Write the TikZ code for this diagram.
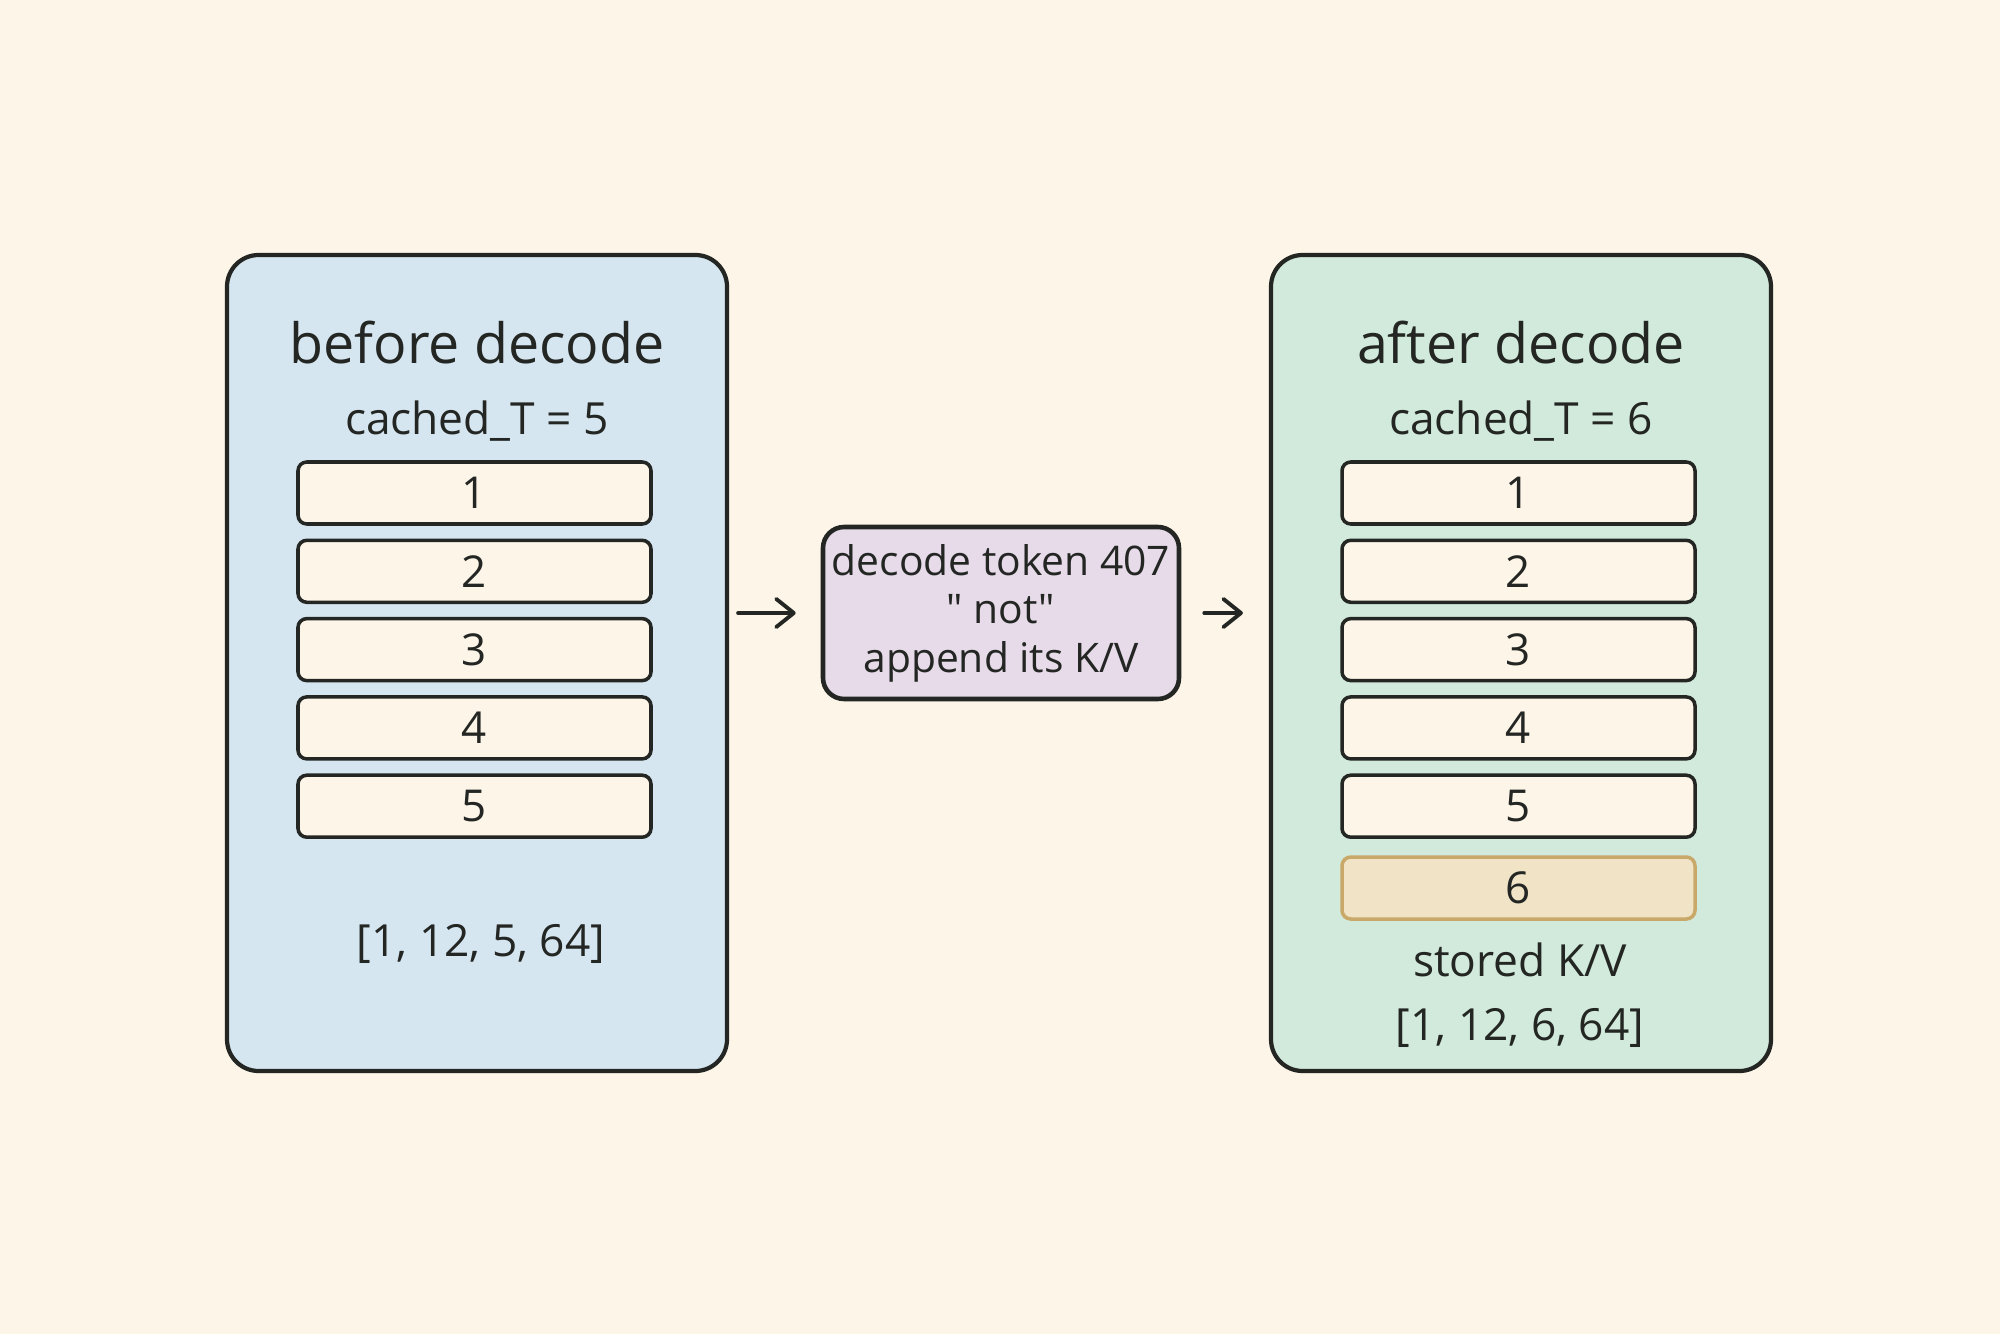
\documentclass[tikz,border=0pt]{standalone}
\usepackage{fontspec}
\setmainfont{Open Sans}[Ligatures=TeXOff]
\usetikzlibrary{arrows.meta,positioning}
\definecolor{paper}{HTML}{FDF5E8}
\definecolor{ink}{HTML}{232623}
\definecolor{sky}{HTML}{D5E6F0}
\definecolor{mint}{HTML}{D1EADB}
\definecolor{lilac}{HTML}{E7DBEA}
\definecolor{sand}{HTML}{F0E3C6}
\definecolor{ochre}{HTML}{C9A96A}
\tikzset{panel/.style={draw=ink,line width=1.2pt,rounded corners=9pt,minimum width=5cm,minimum height=8.16cm},
  slot/.style={draw=ink,fill=paper,line width=1pt,rounded corners=2.5pt,minimum width=3.53cm,minimum height=0.62cm,inner sep=0pt,text=ink,font=\fontsize{12.5}{14}\selectfont},
  title/.style={text=ink,font=\fontsize{15.8}{19}\selectfont},
  note/.style={text=ink,font=\fontsize{12.6}{15}\selectfont},
  flow/.style={draw=ink,line width=1.1pt,line cap=round,-{Straight Barb[length=5pt,width=8pt,round]}}}
\begin{document}
\begin{tikzpicture}
\useasboundingbox[fill=paper] (0,0) rectangle (20,-13.34);
% two cache panels
\node[panel,fill=sky] (before) at (4.77,-6.63){};
\node[panel,fill=mint] (after) at (15.21,-6.63){};
\node[title] (beforetitle) at (4.77,-3.43){before decode};
\node[title] (aftertitle) at (15.21,-3.43){after decode};
\node[note] (beforecount) at (4.77,-4.21){cached\_T = 5};
\node[note] (aftercount) at (15.21,-4.21){cached\_T = 6};
% cached positions
\foreach \i in {1,...,5}{
  \node[slot] (b\i) at (4.745,{-4.93-0.783*(\i-1)}){\i};
  \node[slot] (a\i) at (15.185,{-4.93-0.783*(\i-1)}){\i};}
\node[slot,fill=sand,draw=ochre,below=0.163cm of a5] (a6){6};
\node[note] (beforeshape) at (4.81,-9.44){[1, 12, 5, 64]};
\node[note] (stored) at (15.2,-9.60){stored K/V};
\node[note] (aftershape) at (15.2,-10.28){[1, 12, 6, 64]};
% decode step
\node[draw=ink,fill=lilac,line width=1.3pt,rounded corners=6pt,minimum width=3.56cm,minimum height=1.72cm,inner sep=1pt,align=center,text=ink,font=\fontsize{11.6}{13.8}\selectfont] (step) at (10.01,-6.13){decode token 407\\" not"\\append its K/V};
\draw[flow,shorten <=0.09cm,shorten >=0.25cm] (step.west -| before.east) -- (step.west);
\draw[flow,shorten <=0.23cm,shorten >=0.26cm] (step.east) -- (step.east -| after.west);
\end{tikzpicture}
\end{document}
